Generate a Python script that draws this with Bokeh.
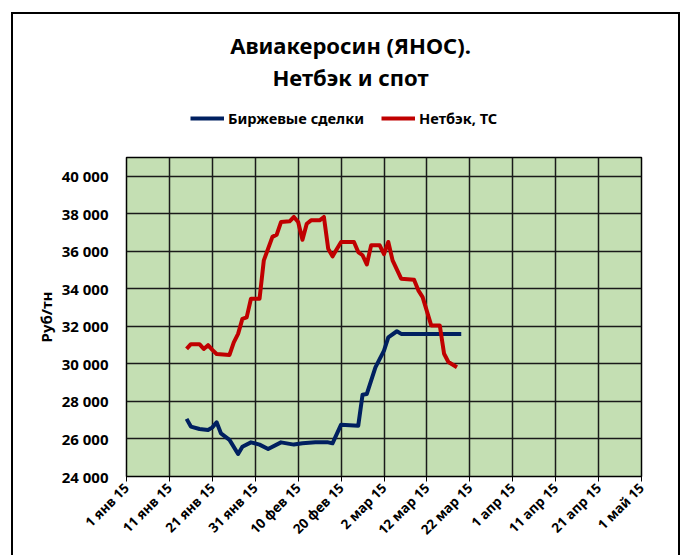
import pandas as pd
from bokeh.plotting import figure
from bokeh.layouts import column
from bokeh.models import (Range1d, FixedTicker, CustomJSTickFormatter, Legend,
                          LegendItem, Label)
from bokeh.embed import file_html
from bokeh.resources import INLINE

# ---- data -------------------------------------------------------------
exchange_dates = ["2015-01-15", "2015-01-16", "2015-01-18", "2015-01-20", "2015-01-21",
                  "2015-01-22", "2015-01-23", "2015-01-25", "2015-01-27", "2015-01-28",
                  "2015-01-30", "2015-02-01", "2015-02-03", "2015-02-06", "2015-02-09",
                  "2015-02-11", "2015-02-14", "2015-02-17", "2015-02-18", "2015-02-20",
                  "2015-02-24", "2015-02-25", "2015-02-26", "2015-02-27", "2015-02-28",
                  "2015-03-02", "2015-03-03", "2015-03-05", "2015-03-06", "2015-03-20"]
exchange_values = [27070, 26660, 26530, 26480, 26620,
                   26890, 26300, 25950, 25200, 25590,
                   25820, 25700, 25470, 25820, 25700,
                   25770, 25820, 25820, 25770, 26760,
                   26710, 28360, 28400, 29110, 29820,
                   30710, 31420, 31740, 31600, 31600]

netback_dates = ["2015-01-15", "2015-01-16", "2015-01-18", "2015-01-19", "2015-01-20",
                 "2015-01-21", "2015-01-22", "2015-01-25", "2015-01-26", "2015-01-27",
                 "2015-01-28", "2015-01-29", "2015-01-30", "2015-02-01", "2015-02-02",
                 "2015-02-04", "2015-02-05", "2015-02-06", "2015-02-08", "2015-02-09",
                 "2015-02-10", "2015-02-11", "2015-02-12", "2015-02-13", "2015-02-15",
                 "2015-02-16", "2015-02-17", "2015-02-18", "2015-02-20", "2015-02-23",
                 "2015-02-24", "2015-02-25", "2015-02-26", "2015-02-27", "2015-03-01",
                 "2015-03-02", "2015-03-03", "2015-03-04", "2015-03-06", "2015-03-09",
                 "2015-03-10", "2015-03-11", "2015-03-13", "2015-03-15", "2015-03-16",
                 "2015-03-17", "2015-03-19"]
netback_values = [30800, 31050, 31050, 30800, 31000,
                  30750, 30530, 30480, 31150, 31600,
                  32400, 32480, 33470, 33470, 35520,
                  36770, 36890, 37560, 37600, 37830,
                  37560, 36620, 37470, 37650, 37650,
                  37830, 36140, 35730, 36500, 36500,
                  35960, 35790, 35300, 36320, 36320,
                  35850, 36500, 35520, 34540, 34490,
                  33920, 33560, 32050, 32050, 30540,
                  30100, 29820]

x_tick_dates = ["2015-01-01", "2015-01-11", "2015-01-21", "2015-01-31", "2015-02-10",
                "2015-02-20", "2015-03-02", "2015-03-12", "2015-03-22", "2015-04-01",
                "2015-04-11", "2015-04-21", "2015-05-01"]
x_tick_labels = ["1 янв 15", "11 янв 15", "21 янв 15", "31 янв 15", "10 фев 15",
                 "20 фев 15", "2 мар 15", "12 мар 15", "22 мар 15", "1 апр 15",
                 "11 апр 15", "21 апр 15", "1 май 15"]
y_ticks = [24000, 26000, 28000, 30000, 32000, 34000, 36000, 38000, 40000]
y_tick_labels = ["24 000", "26 000", "28 000", "30 000", "32 000", "34 000",
                 "36 000", "38 000", "40 000"]

title_line1 = "Авиакеросин (ЯНОС)."
title_line2 = "Нетбэк и спот"
series_names = ["Биржевые сделки", "Нетбэк, ТС"]
series_colors = ["#002060", "#C00000"]
y_label = "Руб/тн"

# ---- layout constants -------------------------------------------------
FONT = "Noto Sans"
W = 665
HEAD_H = 123
MAIN_H = 418

LOOKUP = """
let best = 0, bd = Infinity;
for (let i = 0; i < tvals.length; i++) { const d = Math.abs(tvals[i] - tick); if (d < bd) { bd = d; best = i; } }
return tlabels[best];
"""

# ---- header: titles + legend ------------------------------------------
head = figure(width=W, height=HEAD_H, title=None, output_backend="svg",
              toolbar_location=None, x_axis_location=None, y_axis_location=None,
              x_range=Range1d(0, 1), y_range=Range1d(0, 1),
              min_border=0, min_border_left=0, min_border_right=0,
              min_border_top=0, min_border_bottom=0)
head.outline_line_color = None
head.grid.visible = False
head.background_fill_color = "white"
head.border_fill_color = "white"

for txt, yy in ((title_line1, 93), (title_line2, 61)):
    head.add_layout(Label(x=224, y=yy, x_units="screen", y_units="screen", text=txt,
                          text_align="center", text_baseline="middle",
                          text_font=FONT, text_font_style="bold",
                          text_font_size="22px", text_color="black"))

# legend keys (line style only; the single point is undefined, so nothing is drawn)
nan = float("nan")
key_renderers = [head.line(x=[nan], y=[nan], line_color=c, line_width=4) for c in series_colors]
legend = Legend(items=[LegendItem(label=n, renderers=[r]) for n, r in zip(series_names, key_renderers)],
                location=(64, 9), orientation="horizontal",
                glyph_width=34, glyph_height=20, label_standoff=4, spacing=17,
                padding=0, margin=0, border_line_color=None, background_fill_alpha=0,
                label_text_font=FONT, label_text_font_style="bold",
                label_text_font_size="14.6px", label_height=20, label_text_color="black")
head.add_layout(legend)

# ---- main chart -------------------------------------------------------
ex_x = pd.to_datetime(exchange_dates)
nb_x = pd.to_datetime(netback_dates)
x_ticks_ms = [float(pd.Timestamp(d).value // 10**6) for d in x_tick_dates]

p = figure(width=W, height=MAIN_H, x_axis_type="datetime", title=None,
           x_range=Range1d(pd.Timestamp("2015-01-01"), pd.Timestamp("2015-05-01")),
           y_range=Range1d(24000, 41000),
           output_backend="svg", toolbar_location=None,
           min_border_left=113, min_border_right=37,
           min_border_top=20, min_border_bottom=79)
p.background_fill_color = "#C4DFB3"
p.border_fill_color = "white"
p.outline_line_color = "black"
p.outline_line_width = 1.5

p.xaxis.ticker = FixedTicker(ticks=x_ticks_ms)
p.xaxis.formatter = CustomJSTickFormatter(args=dict(tvals=x_ticks_ms, tlabels=x_tick_labels), code=LOOKUP)
p.xaxis.major_label_orientation = 0.785398
p.xaxis.axis_line_color = "black"
p.xaxis.major_tick_line_color = "black"
p.xaxis.major_tick_out = 5
p.xaxis.major_tick_in = 0
p.xaxis.minor_tick_line_color = None
p.xaxis.major_label_text_font = FONT
p.xaxis.major_label_text_font_style = "bold"
p.xaxis.major_label_text_font_size = "13.5px"
p.xaxis.major_label_text_color = "black"
p.xaxis.major_label_standoff = 4

p.yaxis.ticker = FixedTicker(ticks=y_ticks)
p.yaxis.formatter = CustomJSTickFormatter(args=dict(tvals=y_ticks, tlabels=y_tick_labels), code=LOOKUP)
p.yaxis.axis_line_color = None
p.yaxis.major_tick_line_color = None
p.yaxis.minor_tick_line_color = None
p.yaxis.major_label_standoff = 12
p.yaxis.major_label_text_font = FONT
p.yaxis.major_label_text_font_style = "bold"
p.yaxis.major_label_text_font_size = "15px"
p.yaxis.major_label_text_color = "black"
p.yaxis.axis_label = y_label
p.yaxis.axis_label_text_font = FONT
p.yaxis.axis_label_text_font_style = "bold"
p.yaxis.axis_label_text_font_size = "15px"
p.yaxis.axis_label_text_color = "black"
p.yaxis.axis_label_standoff = 3

p.xgrid.ticker = FixedTicker(ticks=x_ticks_ms)
p.ygrid.ticker = FixedTicker(ticks=y_ticks)
for g in (p.xgrid, p.ygrid):
    g.grid_line_color = "#1a1a1a"
    g.grid_line_width = 1.5

p.line(ex_x, exchange_values, line_color=series_colors[0], line_width=4, line_join="round")
p.line(nb_x, netback_values, line_color=series_colors[1], line_width=4, line_join="round")

layout = column(head, p, spacing=0,
                styles={"margin-left": "11px", "margin-top": "12px",
                        "border-left": "2px solid black", "border-top": "2px solid black",
                        "border-right": "2px solid black"})

open("out.html", "w").write(file_html(layout, INLINE))
